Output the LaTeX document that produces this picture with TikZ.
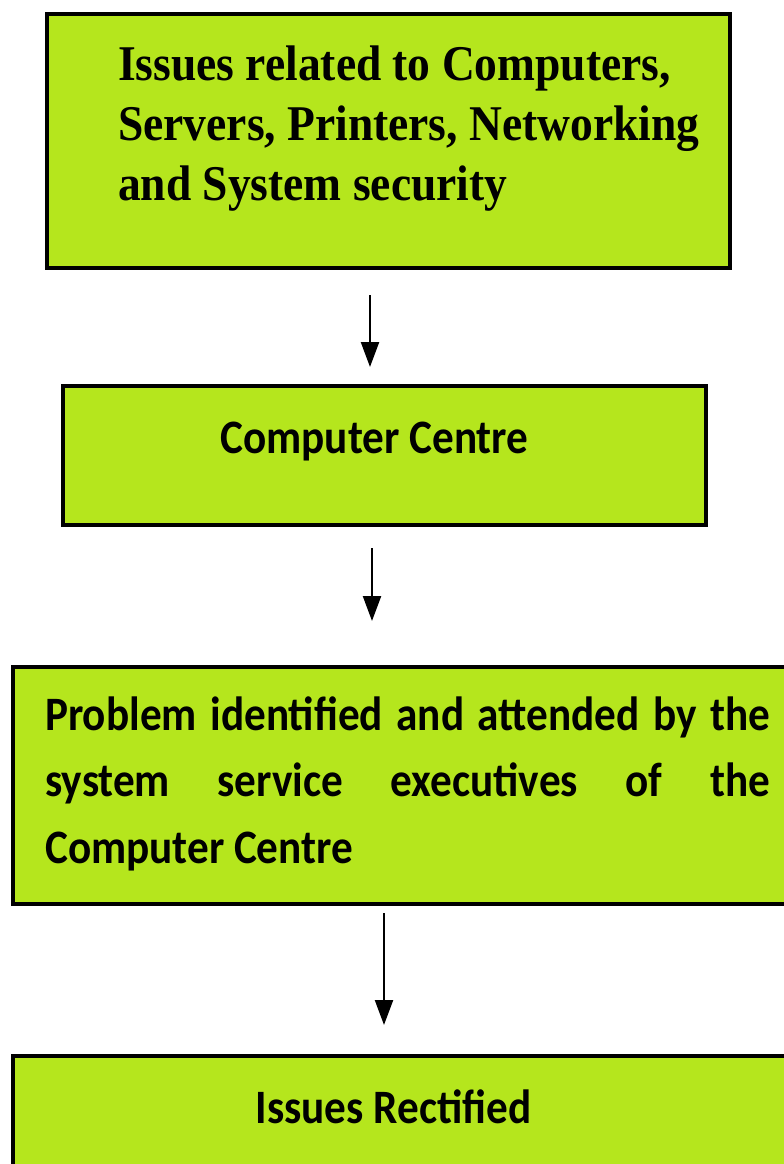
\documentclass[tikz,border=0pt]{standalone}
\usepackage{fontspec}
\usetikzlibrary{arrows.meta}
\newfontfamily\boxserif[FakeStretch=0.91]{Liberation Serif}
\newfontfamily\boxsans[FakeStretch=0.9]{Carlito}
\definecolor{limefill}{HTML}{B5E61D}
\tikzset{
  flowbox/.style={draw=black, fill=limefill, line width=3.5bp, rectangle, inner sep=0pt, anchor=north west},
  boxtext/.style={inner sep=0pt, text=black},
  flowarrow/.style={line width=2.2bp, -{Triangle[width=18bp,length=25bp]}}
}
\begin{document}
\begin{tikzpicture}[x=1bp,y=-1bp]
\useasboundingbox (0,0) rectangle (784,1164);
\clip (0,0) rectangle (784,1164);
% boxes
\node[flowbox, minimum width=683bp, minimum height=254bp] (b1) at (45,12) {};
\node[flowbox, minimum width=643bp, minimum height=139bp] (b2) at (61,384) {};
\node[flowbox, minimum width=800bp, minimum height=237bp] (b3) at (11,665) {};
\node[flowbox, minimum width=800bp, minimum height=140bp] (b4) at (11,1054) {};
% texts
\node[boxtext, anchor=base west] (t1) at (118,80) {\parbox[t]{620bp}{\raggedright\boxserif\bfseries\fontsize{50bp}{60bp}\selectfont
Issues related to Computers,\\ Servers, Printers, Networking\\ and System security}};
\node[boxtext, anchor=base] (t2) at (374.5,453) {\boxsans\bfseries\fontsize{48bp}{58bp}\selectfont Computer Centre};
\node[boxtext, anchor=base west] (t3) at (45,730) {\parbox[t]{725bp}{\boxsans\bfseries\fontsize{48bp}{66.5bp}\selectfont\hbadness=10000\tolerance=10000
Problem identified and attended by the\linebreak system service executives of the\linebreak Computer Centre}};
\node[boxtext, anchor=base] (t4) at (393.5,1123) {\boxsans\bfseries\fontsize{48bp}{58bp}\selectfont Issues Rectified};
% arrows
\coordinate (a1s) at (370,295);
\coordinate (a1e) at (370,367);
\coordinate (a2s) at (372,548);
\coordinate (a2e) at (372,621);
\coordinate (a3s) at (384,913);
\coordinate (a3e) at (384,1025);
\draw[flowarrow] (a1s) -- (a1e);
\draw[flowarrow] (a2s) -- (a2e);
\draw[flowarrow] (a3s) -- (a3e);
\end{tikzpicture}
\end{document}
